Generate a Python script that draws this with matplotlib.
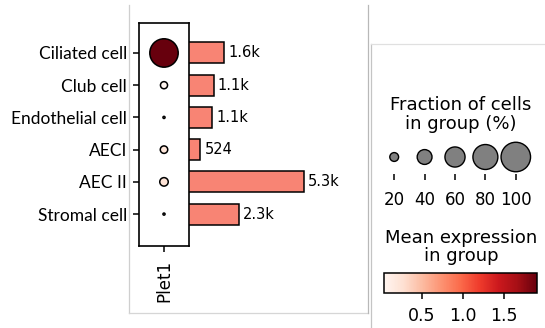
import numpy as np
import matplotlib
matplotlib.use("Agg")
import matplotlib.pyplot as plt
from matplotlib.lines import Line2D
from matplotlib.cm import ScalarMappable
from matplotlib.colors import Normalize

# ---- data ----
cell_types = ["Ciliated cell", "Club cell", "Endothelial cell", "AECI", "AEC II", "Stromal cell"]
gene = "Plet1"
frac_expressing = [0.95, 0.15, 0.03, 0.16, 0.19, 0.03]     # fraction of cells in group
mean_expression = [1.90, 0.04, 0.10, 0.20, 0.25, 0.12]     # mean expression in group
cell_counts = [1610, 1140, 1070, 524, 5310, 2290]          # cells per group
legend_fracs = [20, 40, 60, 80, 100]
cbar_ticks = [0.5, 1.0, 1.5]

W, H = 545, 328
fig = plt.figure(figsize=(W / 100, H / 100), dpi=100)
fig.patch.set_facecolor("white")


def ax_px(left, top, right, bottom):
    return fig.add_axes([left / W, 1 - bottom / H, (right - left) / W, (bottom - top) / H])


def dot_size(frac):
    # marker diameter in px grows as frac**0.75 (area ~ frac**1.5)
    d_px = 29.5 * (frac ** 0.75)
    return (d_px * 0.72) ** 2


vmin, vmax = 0.04, 1.90
norm = Normalize(vmin=vmin, vmax=vmax)
cmap = plt.get_cmap("Reds")
rows = np.arange(len(cell_types))
ylim = (5.99, -0.93)

# ---- dot plot ----
ax = ax_px(139, 23, 189, 246)
ax.scatter(np.zeros(len(rows)), rows, s=[dot_size(f) for f in frac_expressing],
           c=mean_expression, cmap=cmap, norm=norm, edgecolors="black",
           linewidths=1.1, zorder=3)
ax.set_xlim(-0.5, 0.5)
ax.set_ylim(*ylim)
ax.set_xticks([0])
ax.set_xticklabels([gene], rotation=90, fontsize=12)
ax.set_yticks(rows)
ax.set_yticklabels(cell_types, fontsize=12.5, family=["Lato", "DejaVu Sans"])
ax.tick_params(axis="both", length=4.3, width=1.1, pad=4.3)
ax.tick_params(axis="x", pad=6)
for s in ax.spines.values():
    s.set_linewidth(1.2)

# ---- cell count bars ----
bx = ax_px(189, 23, 189 + 7000 * 115 / 5310, 246)
bars = bx.barh(rows, cell_counts, height=0.65, color="#f88474", edgecolor="black", linewidth=1.1)
bx.set_xlim(0, 7000)
bx.set_ylim(*ylim)
bx.axis("off")
labels = [f"{v / 1000:.1f}k" if v >= 1000 else str(v) for v in cell_counts]
bx.bar_label(bars, labels=labels, padding=3, fontsize=10.5)

# ---- size legend ----
fig.text(461 / W, 1 - 114.5 / H, "Fraction of cells\nin group (%)", ha="center", va="center",
         fontsize=13, linespacing=1.05)
lx = ax_px(379, 140, 531, 174)
lx.scatter(np.arange(len(legend_fracs)), np.zeros(len(legend_fracs)),
           s=[dot_size(f / 100) for f in legend_fracs], color="#808080",
           edgecolors="black", linewidths=1.0, zorder=3, clip_on=False)
lx.set_xlim(-0.5, len(legend_fracs) - 0.5)
lx.set_ylim(-1, 1)
lx.set_xticks(np.arange(len(legend_fracs)))
lx.set_xticklabels([str(f) for f in legend_fracs], fontsize=12)
lx.set_yticks([])
lx.tick_params(axis="x", length=4, width=1.1, pad=8)
for s in lx.spines.values():
    s.set_visible(False)
lx.patch.set_alpha(0)

# ---- colorbar ----
fig.text(461 / W, 1 - 247 / H, "Mean expression\nin group", ha="center", va="center",
         fontsize=13, linespacing=1.05)
cax = ax_px(384, 273, 537, 293)
cb = fig.colorbar(ScalarMappable(norm=norm, cmap=cmap), cax=cax, orientation="horizontal")
cb.set_ticks(cbar_ticks)
cb.ax.tick_params(labelsize=12.5, length=4, width=1.1, pad=6)
cb.outline.set_linewidth(1.1)

# ---- panel frames ----
def frame_line(x0, y0, x1, y1, color):
    fig.add_artist(Line2D([x0 / W, x1 / W], [1 - y0 / H, 1 - y1 / H], color=color,
                          linewidth=0.9, transform=fig.transFigure))

frame_line(129, 5, 129, 313, "#cfcfcf")
frame_line(129, 313, 368, 313, "#d6d6d6")
frame_line(368, 5, 368, 313, "#b8b8b8")
frame_line(371, 44, 371, 328, "#c4c4c4")
frame_line(371, 44, 545, 44, "#e0e0e0")

fig.savefig("out.png", dpi=100)
